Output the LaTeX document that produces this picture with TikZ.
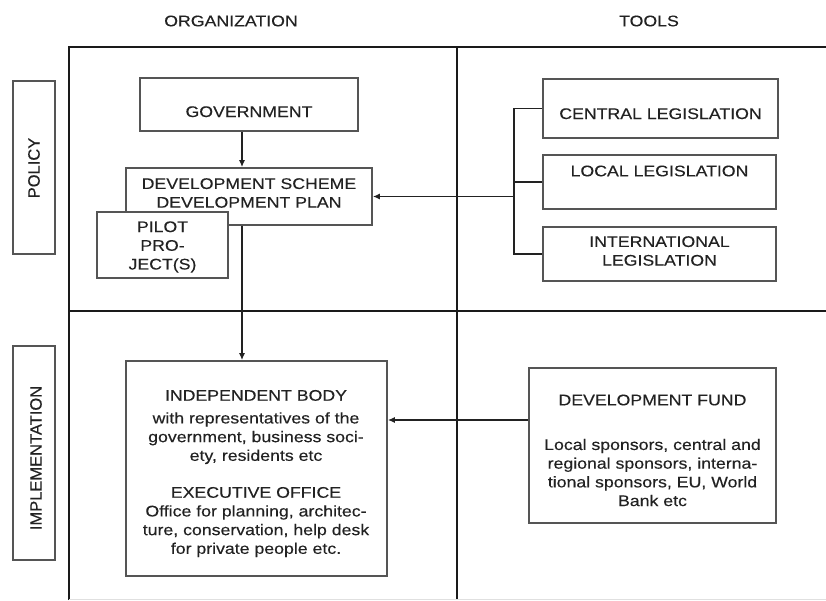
\documentclass[tikz,border=0pt]{standalone}
\usepackage{fontspec}
\setmainfont{Liberation Sans}[FakeStretch=1.15,FakeBold=0.25]
\newfontfamily\rotfont{Liberation Sans}[FakeBold=0.25]
\usetikzlibrary{arrows.meta}
\definecolor{ink}{HTML}{222222}
\definecolor{boxline}{HTML}{555555}
\definecolor{frameline}{HTML}{1A1A1A}
\begin{document}
\begin{tikzpicture}[x=1pt,y=-1pt,
  box/.style={draw=boxline, line width=1.6pt, fill=white, inner sep=0pt, anchor=center},
  txt/.style={text=ink, align=center, inner sep=0pt, font=\fontsize{15.4}{18.7}\selectfont},
  rtxt/.style={text=ink, inner sep=0pt, rotate=90, font=\rotfont\fontsize{16.5}{20}\selectfont},
  frame/.style={draw=frameline, line width=2.4pt},
  conn/.style={draw=ink, line width=1.5pt},
  arr/.style={conn, -{Latex[length=7pt,width=6pt]}}]
\useasboundingbox (0,0) rectangle (826,600);
% frame
\draw[frame] (69,600) -- (69,47) -- (826,47);
\draw[frame] (457,47) -- (457,600);
\draw[frame, line width=2pt] (69,311) -- (826,311);
\draw[draw=black!12, line width=1pt] (69,599.5) -- (826,599.5);
% headers
\node[txt] (org) at (231,21) {ORGANIZATION};
\node[txt] (tools) at (649,21) {TOOLS};
% side labels
\node[box, minimum width=42, minimum height=173] (pol) at (34,167.5) {};
\node[rtxt] (pol-t) at (34,168) {POLICY};
\node[box, minimum width=42, minimum height=214] (imp) at (34,453) {};
\node[rtxt] (imp-t) at (36,458) {IMPLEMENTATION};
% organization / policy
\node[box, minimum width=218, minimum height=53] (gov) at (249,104.5) {};
\node[txt] (gov-t) at (249,111.7) {GOVERNMENT};
\node[box, minimum width=246, minimum height=57] (dev) at (249,196.5) {};
\node[txt] (dev-t) at (249,193) {DEVELOPMENT SCHEME\\DEVELOPMENT PLAN};
\node[box, minimum width=261, minimum height=215] (ind) at (256.5,468.5) {};
\coordinate (ax) at (242,0);
\draw[arr] (gov.south -| ax) -- (dev.north -| ax);
\draw[arr] (dev.south -| ax) -- (ind.north -| ax);
\node[box, minimum width=131, minimum height=66] (pil) at (162.5,245) {};
\node[txt] (pil-t) at (162.5,247) {PILOT\\PRO-\\JECT(S)};
% tools / policy
\node[box, minimum width=235, minimum height=59] (cl) at (660.5,108.5) {};
\node[txt] (cl-t) at (660.5,113.7) {CENTRAL LEGISLATION};
\node[box, minimum width=233, minimum height=54] (ll) at (659.5,182) {};
\node[txt] (ll-t) at (659.5,171) {LOCAL LEGISLATION};
\node[box, minimum width=233, minimum height=54] (il) at (659.5,254) {};
\node[txt] (il-t) at (659.5,251) {INTERNATIONAL\\LEGISLATION};
\coordinate (brk) at (514,196.5);
\draw[conn, line width=1.3pt] (cl.west) -- (cl.west -| brk) -- (il.west -| brk) -- (il.west);
\draw[conn, line width=1.3pt] (ll.west) -- (ll.west -| brk);
\draw[arr] (brk) -- (dev.east);
% implementation
\node[txt] (ind-t1) at (256,427) {INDEPENDENT BODY\\[4pt]with representatives of the\\government, business soci-\\ety, residents etc};
\node[txt] (ind-t2) at (256,522) {EXECUTIVE OFFICE\\Office for planning, architec-\\ture, conservation, help desk\\for private people etc.};
\node[box, minimum width=247, minimum height=155] (fund) at (652.5,445.5) {};
\node[txt] (fund-t1) at (652.5,400) {DEVELOPMENT FUND};
\node[txt] (fund-t2) at (652.5,472.5) {Local sponsors, central and\\regional sponsors, interna-\\tional sponsors, EU, World\\Bank etc};
\coordinate (fy) at (0,420);
\draw[arr] (fund.west |- fy) -- (ind.east |- fy);
\end{tikzpicture}
\end{document}
